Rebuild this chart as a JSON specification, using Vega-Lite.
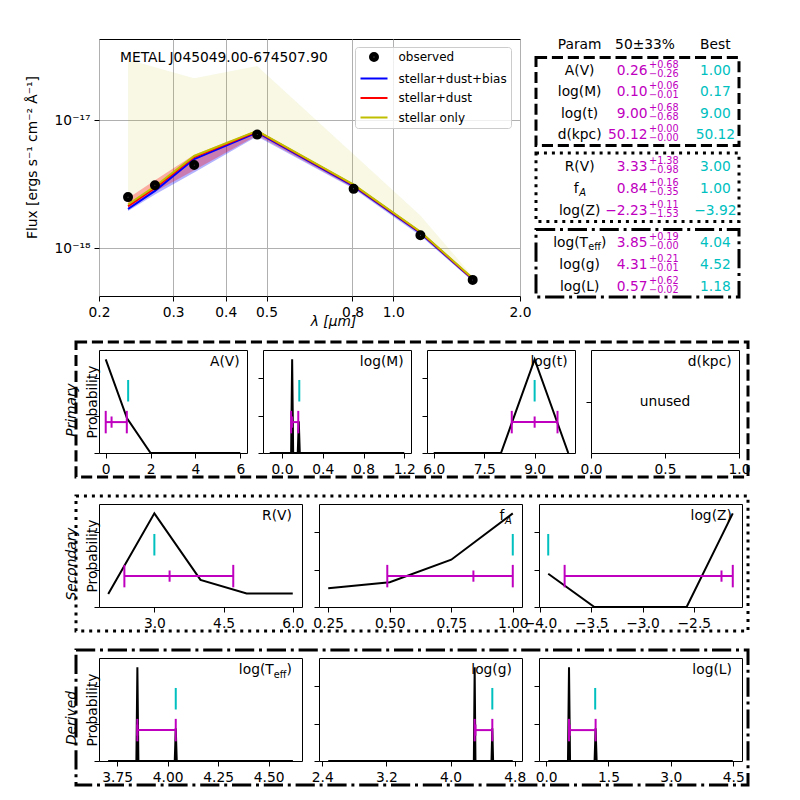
{
"$schema":"https://vega.github.io/schema/vega-lite/v6.json",
"background":"white",
"padding":{"left":24,"top":32,"right":5,"bottom":5},
"config":{
"font":"DejaVu Sans",
"view":{"stroke":"black","strokeWidth":1},
"axis":{"labelFont":"DejaVu Sans","titleFont":"DejaVu Sans","labelFontSize":13.8,"titleFontSize":13.8,"labelColor":"black","titleColor":"black","tickColor":"black","tickWidth":1,"tickSize":5,"labelPadding":4,"domain":false,"grid":false,"titleFontWeight":"normal","labelFlush":false,"labelOverlap":false},
"text":{"font":"DejaVu Sans","fontSize":13.8}
},
"datasets":{
"obs":[
{"series":"observed","wl":0.2344,"flux":2.5e-18},
{"series":"observed","wl":0.2716,"flux":3.1e-18},
{"series":"observed","wl":0.3366,"flux":4.45e-18},
{"series":"observed","wl":0.475,"flux":7.7e-18},
{"series":"observed","wl":0.805,"flux":2.9e-18},
{"series":"observed","wl":1.16,"flux":1.26e-18},
{"series":"observed","wl":1.544,"flux":5.64e-19}],
"model":[
{"series":"stellar+dust+bias","wl":0.2344,"flux":2.02e-18},
{"series":"stellar+dust+bias","wl":0.2716,"flux":2.8e-18},
{"series":"stellar+dust+bias","wl":0.3366,"flux":4.96e-18},
{"series":"stellar+dust+bias","wl":0.475,"flux":8.0e-18},
{"series":"stellar+dust+bias","wl":0.805,"flux":3.05e-18},
{"series":"stellar+dust+bias","wl":1.16,"flux":1.31e-18},
{"series":"stellar+dust+bias","wl":1.544,"flux":5.7e-19},
{"series":"stellar+dust","wl":0.2344,"flux":2.12e-18},
{"series":"stellar+dust","wl":0.2716,"flux":2.95e-18},
{"series":"stellar+dust","wl":0.3366,"flux":5.15e-18},
{"series":"stellar+dust","wl":0.475,"flux":8.15e-18},
{"series":"stellar+dust","wl":0.805,"flux":3.1e-18},
{"series":"stellar+dust","wl":1.16,"flux":1.33e-18},
{"series":"stellar+dust","wl":1.544,"flux":5.76e-19},
{"series":"stellar only","wl":0.2344,"flux":2.19e-18},
{"series":"stellar only","wl":0.2716,"flux":3.03e-18},
{"series":"stellar only","wl":0.3366,"flux":5.24e-18},
{"series":"stellar only","wl":0.475,"flux":8.25e-18},
{"series":"stellar only","wl":0.805,"flux":3.13e-18},
{"series":"stellar only","wl":1.16,"flux":1.34e-18},
{"series":"stellar only","wl":1.544,"flux":5.81e-19}],
"bands":[
{"s":"so","wl":0.2344,"lo":2.08e-18,"hi":2.97e-17},
{"s":"so","wl":0.2716,"lo":2.88e-18,"hi":2.59e-17},
{"s":"so","wl":0.3366,"lo":4.98e-18,"hi":2.12e-17},
{"s":"so","wl":0.475,"lo":7.84e-18,"hi":2.64e-17},
{"s":"so","wl":0.805,"lo":2.97e-18,"hi":5.4e-18},
{"s":"so","wl":1.16,"lo":1.27e-18,"hi":1.8e-18},
{"s":"so","wl":1.544,"lo":5.52e-19,"hi":6.0e-19},
{"s":"sdb","wl":0.2344,"lo":1.95e-18,"hi":2.2e-18},
{"s":"sdb","wl":0.2716,"lo":2.62e-18,"hi":3.0e-18},
{"s":"sdb","wl":0.3366,"lo":3.9e-18,"hi":5.1e-18},
{"s":"sdb","wl":0.475,"lo":7.45e-18,"hi":8.15e-18},
{"s":"sdb","wl":0.805,"lo":2.9e-18,"hi":3.1e-18},
{"s":"sdb","wl":1.16,"lo":1.25e-18,"hi":1.33e-18},
{"s":"sdb","wl":1.544,"lo":5.5e-19,"hi":5.8e-19},
{"s":"sd","wl":0.2344,"lo":2.02e-18,"hi":2.45e-18},
{"s":"sd","wl":0.2716,"lo":2.75e-18,"hi":3.39e-18},
{"s":"sd","wl":0.3366,"lo":4.05e-18,"hi":5.35e-18},
{"s":"sd","wl":0.475,"lo":7.6e-18,"hi":8.35e-18},
{"s":"sd","wl":0.805,"lo":2.95e-18,"hi":3.15e-18},
{"s":"sd","wl":1.16,"lo":1.28e-18,"hi":1.35e-18},
{"s":"sd","wl":1.544,"lo":5.55e-19,"hi":5.85e-19}]
},
"resolve":{"scale":{"color":"independent","shape":"independent"},"legend":{"color":"independent","shape":"independent"}},
"spacing":10,"bounds":"full","align":"none",
"vconcat":[
{"hconcat":[
{"width":7,"height":1,"view":{"stroke":null},"data":{"values":[{}]},"mark":{"type":"text","text":""}},
{"width":421,"height":257,
"layer":[
{"data":{"name":"bands"},"transform":[{"filter":"datum.s == 'so'"}],"mark":{"type":"area","color":"#bfbf00","opacity":0.1},
"encoding":{"x":{"field":"wl","type":"quantitative","scale":{"type":"log","domain":[0.2,2.0],"nice":false},"axis":{"title":"λ [μm]","titleFontStyle":"italic","values":[0.2,0.3,0.4,0.5,0.8,1.0,2.0],"format":".1f","grid":true,"gridColor":"#b0b0b0","gridWidth":1,"titlePadding":-4,"titleX":234,"titleAlign":"center"}},
"y":{"field":"lo","type":"quantitative","scale":{"type":"log","domain":[4.22e-19,4.3e-17],"nice":false},"axis":{"title":"Flux [ergs s⁻¹ cm⁻² Å⁻¹]","values":[1e-18,1e-17],"labelExpr":"datum.value > 5e-18 ? '10⁻¹⁷' : '10⁻¹⁸'","grid":true,"gridColor":"#b0b0b0","gridWidth":1,"titlePadding":15,"titleY":118}},
"y2":{"field":"hi"}}},
{"data":{"name":"bands"},"transform":[{"filter":"datum.s == 'sdb'"}],"mark":{"type":"area","color":"blue","opacity":0.3},
"encoding":{"x":{"field":"wl","type":"quantitative"},"y":{"field":"lo","type":"quantitative"},"y2":{"field":"hi"}}},
{"data":{"name":"bands"},"transform":[{"filter":"datum.s == 'sd'"}],"mark":{"type":"area","color":"red","opacity":0.3},
"encoding":{"x":{"field":"wl","type":"quantitative"},"y":{"field":"lo","type":"quantitative"},"y2":{"field":"hi"}}},
{"data":{"name":"model"},"transform":[{"filter":"datum.series == 'stellar+dust+bias'"}],"mark":{"type":"line","strokeWidth":2},
"encoding":{"x":{"field":"wl","type":"quantitative"},"y":{"field":"flux","type":"quantitative"},
"color":{"field":"series","type":"nominal","scale":{"domain":["observed","stellar+dust+bias","stellar+dust","stellar only"],"range":["black","blue","red","#bfbf00"]},
"legend":{"title":null,"orient":"none","legendX":256,"legendY":8,"padding":4,"labelFontSize":12,"labelColor":"black","symbolSize":100,"symbolStrokeWidth":2,"symbolOffset":9,"labelOffset":18.5,"rowPadding":7.5,"fillColor":"rgba(255,255,255,0.8)","strokeColor":"#cccccc","cornerRadius":3}}}},
{"data":{"name":"model"},"transform":[{"filter":"datum.series == 'stellar+dust'"}],"mark":{"type":"line","strokeWidth":2},
"encoding":{"x":{"field":"wl","type":"quantitative"},"y":{"field":"flux","type":"quantitative"},
"color":{"field":"series","type":"nominal"}}},
{"data":{"name":"model"},"transform":[{"filter":"datum.series == 'stellar only'"}],"mark":{"type":"line","strokeWidth":2},
"encoding":{"x":{"field":"wl","type":"quantitative"},"y":{"field":"flux","type":"quantitative"},
"color":{"field":"series","type":"nominal"}}},
{"data":{"name":"obs"},"mark":{"type":"point","filled":false,"size":100,"opacity":1,"strokeWidth":2},
"encoding":{"x":{"field":"wl","type":"quantitative"},"y":{"field":"flux","type":"quantitative"},
"color":{"field":"series","type":"nominal"},
"shape":{"field":"series","type":"nominal","scale":{"domain":["observed","stellar+dust+bias","stellar+dust","stellar only"],"range":["M-0.8,0A0.8,0.8 0 1,0 0.8,0A0.8,0.8 0 1,0 -0.8,0ZM-0.45,0A0.45,0.45 0 1,0 0.45,0A0.45,0.45 0 1,0 -0.45,0ZM-0.12,0A0.12,0.12 0 1,0 0.12,0A0.12,0.12 0 1,0 -0.12,0Z","M-2.7,0L2.7,0","M-2.7,0L2.7,0","M-2.7,0L2.7,0"]},
"legend":{"title":null,"orient":"none","legendX":256,"legendY":8,"padding":4,"labelFontSize":12,"labelColor":"black","symbolSize":100,"symbolStrokeWidth":2,"symbolOffset":9,"labelOffset":18.5,"rowPadding":7.5,"fillColor":"rgba(255,255,255,0.8)","strokeColor":"#cccccc","cornerRadius":3}}}},
{"data":{"values":[{"t":"METAL J045049.00-674507.90"}]},"mark":{"type":"text","align":"left","fontSize":13.8},
"encoding":{"x":{"datum":0.2244},"y":{"datum":3.05e-17},"text":{"field":"t"}}}
]},
{"vconcat":[
{"width":203,"height":11,"view":{"stroke":null},"data":{"values":[{}]},
"layer":[
{"mark":{"type":"text","fontSize":13.8},"encoding":{"x":{"datum":0,"scale":{"domain":[-0.643,2.348],"nice":false,"zero":false},"axis":null},"y":{"datum":0,"scale":{"domain":[-1,1]},"axis":null},"text":{"value":"Param"}}},
{"mark":{"type":"text","fontSize":13.8},"encoding":{"x":{"datum":0.963,"axis":null},"y":{"datum":0,"axis":null},"text":{"value":"50±33%"}}},
{"mark":{"type":"text","fontSize":13.8},"encoding":{"x":{"datum":2,"axis":null},"y":{"datum":0,"axis":null},"text":{"value":"Best"}}}
]},
{"width":203,"height":88,"view":{"stroke":"black","strokeWidth":3,"strokeDash":[11.1,4.8]},
"data":{"values":[
{"key":"A(V)","label":"A(V)","val":"0.26","up":"+0.68","dn":"−0.26","best":"1.00"},
{"key":"log(M)","label":"log(M)","val":"0.10","up":"+0.06","dn":"−0.01","best":"0.17"},
{"key":"log(t)","label":"log(t)","val":"9.00","up":"+0.68","dn":"−0.68","best":"9.00"},
{"key":"d(kpc)","label":"d(kpc)","val":"50.12","up":"+0.00","dn":"−0.00","best":"50.12"}]},
"encoding":{"y":{"field":"key","type":"nominal","scale":{"type":"point","domain":["A(V)","log(M)","log(t)","d(kpc)"],"padding":0.55,"align":0.57},"axis":null}},
"layer":[
{"mark":{"type":"text","fontSize":13.8},"encoding":{"x":{"datum":0,"scale":{"domain":[-0.643,2.348],"nice":false,"zero":false},"axis":null},"text":{"field":"label"}}},
{"mark":{"type":"text","fontSize":13.8,"align":"right","color":"#bf00bf"},"encoding":{"x":{"datum":1,"axis":null},"text":{"field":"val"}}},
{"mark":{"type":"text","fontSize":9.7,"align":"left","dx":1.5,"dy":-6,"color":"#bf00bf"},"encoding":{"x":{"datum":1,"axis":null},"text":{"field":"up"}}},
{"mark":{"type":"text","fontSize":9.7,"align":"left","dx":1.5,"dy":3,"color":"#bf00bf"},"encoding":{"x":{"datum":1,"axis":null},"text":{"field":"dn"}}},
{"mark":{"type":"text","fontSize":13.8,"color":"#00bfbf"},"encoding":{"x":{"datum":2,"axis":null},"text":{"field":"best"}}}
]},
{"width":203,"height":68.5,"view":{"stroke":"black","strokeWidth":3,"strokeDash":[3,4.95]},
"data":{"values":[
{"key":"R(V)","label":"R(V)","val":"3.33","up":"+1.38","dn":"−0.98","best":"3.00"},
{"key":"fA","label":"","val":"0.84","up":"+0.16","dn":"−0.35","best":"1.00"},
{"key":"log(Z)","label":"log(Z)","val":"−2.23","up":"+0.11","dn":"−1.53","best":"−3.92"}]},
"encoding":{"y":{"field":"key","type":"nominal","scale":{"type":"point","domain":["R(V)","fA","log(Z)"],"padding":0.55,"align":0.57},"axis":null}},
"layer":[
{"mark":{"type":"text","fontSize":13.8},"encoding":{"x":{"datum":0,"scale":{"domain":[-0.643,2.348],"nice":false,"zero":false},"axis":null},"text":{"field":"label"}}},
{"mark":{"type":"text","fontSize":13.8,"align":"right","color":"#bf00bf"},"encoding":{"x":{"datum":1,"axis":null},"text":{"field":"val"}}},
{"mark":{"type":"text","fontSize":9.7,"align":"left","dx":1.5,"dy":-6,"color":"#bf00bf"},"encoding":{"x":{"datum":1,"axis":null},"text":{"field":"up"}}},
{"mark":{"type":"text","fontSize":9.7,"align":"left","dx":1.5,"dy":3,"color":"#bf00bf"},"encoding":{"x":{"datum":1,"axis":null},"text":{"field":"dn"}}},
{"mark":{"type":"text","fontSize":13.8,"color":"#00bfbf"},"encoding":{"x":{"datum":2,"axis":null},"text":{"field":"best"}}},
{"transform":[{"filter":"datum.key == 'fA'"}],"mark":{"type":"text","fontSize":13.8,"align":"right","dx":-1},"encoding":{"x":{"datum":0,"axis":null},"text":{"value":"f"}}},
{"transform":[{"filter":"datum.key == 'fA'"}],"mark":{"type":"text","fontSize":10,"fontStyle":"italic","align":"left","dx":-0.5,"dy":4},"encoding":{"x":{"datum":0,"axis":null},"text":{"value":"A"}}}
]},
{"width":203,"height":67.5,"view":{"stroke":"black","strokeWidth":3,"strokeDash":[19.2,4.8,3,4.8]},
"data":{"values":[
{"key":"log(Teff)","label":"","val":"3.85","up":"+0.19","dn":"−0.00","best":"4.04"},
{"key":"log(g)","label":"log(g)","val":"4.31","up":"+0.21","dn":"−0.01","best":"4.52"},
{"key":"log(L)","label":"log(L)","val":"0.57","up":"+0.62","dn":"−0.02","best":"1.18"}]},
"encoding":{"y":{"field":"key","type":"nominal","scale":{"type":"point","domain":["log(Teff)","log(g)","log(L)"],"padding":0.55,"align":0.57},"axis":null}},
"layer":[
{"mark":{"type":"text","fontSize":13.8},"encoding":{"x":{"datum":0,"scale":{"domain":[-0.643,2.348],"nice":false,"zero":false},"axis":null},"text":{"field":"label"}}},
{"mark":{"type":"text","fontSize":13.8,"align":"right","color":"#bf00bf"},"encoding":{"x":{"datum":1,"axis":null},"text":{"field":"val"}}},
{"mark":{"type":"text","fontSize":9.7,"align":"left","dx":1.5,"dy":-6,"color":"#bf00bf"},"encoding":{"x":{"datum":1,"axis":null},"text":{"field":"up"}}},
{"mark":{"type":"text","fontSize":9.7,"align":"left","dx":1.5,"dy":3,"color":"#bf00bf"},"encoding":{"x":{"datum":1,"axis":null},"text":{"field":"dn"}}},
{"mark":{"type":"text","fontSize":13.8,"color":"#00bfbf"},"encoding":{"x":{"datum":2,"axis":null},"text":{"field":"best"}}},
{"transform":[{"filter":"datum.key == 'log(Teff)'"}],"mark":{"type":"text","fontSize":13.8,"align":"right","dx":8.4},"encoding":{"x":{"datum":0,"axis":null},"text":{"value":"log(T"}}},
{"transform":[{"filter":"datum.key == 'log(Teff)'"}],"mark":{"type":"text","fontSize":9.7,"align":"left","dx":8.6,"dy":3.5},"encoding":{"x":{"datum":0,"axis":null},"text":{"value":"eff"}}},
{"transform":[{"filter":"datum.key == 'log(Teff)'"}],"mark":{"type":"text","fontSize":13.8,"align":"left","dx":21.4},"encoding":{"x":{"datum":0,"axis":null},"text":{"value":")"}}}
]}
],"spacing":7.5,"bounds":"flush","align":"none"}
],"spacing":16,"bounds":"flush","align":"none",
"resolve":{"scale":{"color":"independent","shape":"independent"},"legend":{"color":"independent","shape":"independent"}}},
{"vconcat":[
{"vconcat":[
{"width":672,"height":135,"view":{"stroke":"black","strokeWidth":3,"strokeDash":[11.1,4.8]},"data":{"values":[{"g":"a"}]},"mark":{"type":"text","text":""},
"encoding":{"y":{"field":"g","type":"nominal","axis":{"title":"Primary","labels":false,"ticks":false,"domain":false,"titleFontStyle":"italic","titlePadding":-2}}}},
{"hconcat":[
{"width":1,"height":1,"view":{"stroke":null},"data":{"values":[{}]},"mark":{"type":"text","text":""}},
{"hconcat":[
{"width":148,"height":103,"layer":[
{"data":{"values":[{"x":0,"p":1.0},{"x":0.95,"p":0.37},{"x":2,"p":0},{"x":3,"p":0},{"x":4,"p":0},{"x":5,"p":0},{"x":6,"p":0}]},
"mark":{"type":"line","color":"black","strokeWidth":2,"clip":true},
"encoding":{"x":{"field":"x","type":"quantitative","scale":{"domain":[-0.3,6.3],"nice":false,"zero":false},"axis":{"title":null,"values":[0,2,4,6],"format":"d"}},
"y":{"field":"p","type":"quantitative","scale":{"domain":[0,1.1],"nice":false},"axis":{"title":"Probability","values":[0,0.2,0.4,0.6,0.8,1],"labels":false,"titlePadding":-6}}}},
{"data":{"values":[{"lo":0,"mid":0.26,"hi":0.94,"best":1.0}]},"layer":[
{"mark":{"type":"rule","color":"#bf00bf","strokeWidth":2},"encoding":{"x":{"field":"lo","type":"quantitative"},"x2":{"field":"hi"},"y":{"datum":0.33}}},
{"mark":{"type":"rule","color":"#bf00bf","strokeWidth":2},"encoding":{"x":{"field":"lo","type":"quantitative"},"y":{"datum":0.21},"y2":{"datum":0.45}}},
{"mark":{"type":"rule","color":"#bf00bf","strokeWidth":2},"encoding":{"x":{"field":"hi","type":"quantitative"},"y":{"datum":0.21},"y2":{"datum":0.45}}},
{"mark":{"type":"rule","color":"#bf00bf","strokeWidth":2},"encoding":{"x":{"field":"mid","type":"quantitative"},"y":{"datum":0.27},"y2":{"datum":0.39}}},
{"mark":{"type":"rule","color":"#00bfbf","strokeWidth":2},"encoding":{"x":{"field":"best","type":"quantitative"},"y":{"datum":0.55},"y2":{"datum":0.78}}}]},
{"data":{"values":[{}]},"mark":{"type":"text","align":"right","baseline":"top","fontSize":13.8},"encoding":{"x":{"datum":5.97},"y":{"datum":1.045},"text":{"value":"A(V)"}}}
]},
{"width":148,"height":103,"layer":[
{"data":{"values":[{"x":-0.12,"p":0},{"x":0.09,"p":0},{"x":0.1,"p":1.0},{"x":0.11,"p":0},{"x":0.155,"p":0},{"x":0.165,"p":0.34},{"x":0.175,"p":0},{"x":1.2,"p":0}]},
"mark":{"type":"line","color":"black","strokeWidth":2,"clip":true},
"encoding":{"x":{"field":"x","type":"quantitative","scale":{"domain":[-0.186,1.266],"nice":false,"zero":false},"axis":{"title":null,"values":[0,0.4,0.8,1.2],"format":".1f"}},
"y":{"field":"p","type":"quantitative","scale":{"domain":[0,1.1],"nice":false},"axis":{"title":null,"values":[0,0.2,0.4,0.6,0.8,1],"labels":false}}}},
{"data":{"values":[{"lo":0.09,"mid":0.10,"hi":0.16,"best":0.17}]},"layer":[
{"mark":{"type":"rule","color":"#bf00bf","strokeWidth":2},"encoding":{"x":{"field":"lo","type":"quantitative"},"x2":{"field":"hi"},"y":{"datum":0.33}}},
{"mark":{"type":"rule","color":"#bf00bf","strokeWidth":2},"encoding":{"x":{"field":"lo","type":"quantitative"},"y":{"datum":0.21},"y2":{"datum":0.45}}},
{"mark":{"type":"rule","color":"#bf00bf","strokeWidth":2},"encoding":{"x":{"field":"hi","type":"quantitative"},"y":{"datum":0.21},"y2":{"datum":0.45}}},
{"mark":{"type":"rule","color":"#bf00bf","strokeWidth":2},"encoding":{"x":{"field":"mid","type":"quantitative"},"y":{"datum":0.27},"y2":{"datum":0.39}}},
{"mark":{"type":"rule","color":"#00bfbf","strokeWidth":2},"encoding":{"x":{"field":"best","type":"quantitative"},"y":{"datum":0.55},"y2":{"datum":0.78}}}]},
{"data":{"values":[{}]},"mark":{"type":"text","align":"right","baseline":"top","fontSize":13.8},"encoding":{"x":{"datum":1.193},"y":{"datum":1.045},"text":{"value":"log(M)"}}}
]},
{"width":148,"height":103,"layer":[
{"data":{"values":[{"x":6,"p":0},{"x":8,"p":0},{"x":9,"p":1.0},{"x":10,"p":0}]},
"mark":{"type":"line","color":"black","strokeWidth":2,"clip":true},
"encoding":{"x":{"field":"x","type":"quantitative","scale":{"domain":[5.8,10.2],"nice":false,"zero":false},"axis":{"title":null,"values":[6,7.5,9],"format":".1f"}},
"y":{"field":"p","type":"quantitative","scale":{"domain":[0,1.1],"nice":false},"axis":{"title":null,"values":[0,0.2,0.4,0.6,0.8,1],"labels":false}}}},
{"data":{"values":[{"lo":8.32,"mid":9.0,"hi":9.68,"best":9.0}]},"layer":[
{"mark":{"type":"rule","color":"#bf00bf","strokeWidth":2},"encoding":{"x":{"field":"lo","type":"quantitative"},"x2":{"field":"hi"},"y":{"datum":0.33}}},
{"mark":{"type":"rule","color":"#bf00bf","strokeWidth":2},"encoding":{"x":{"field":"lo","type":"quantitative"},"y":{"datum":0.21},"y2":{"datum":0.45}}},
{"mark":{"type":"rule","color":"#bf00bf","strokeWidth":2},"encoding":{"x":{"field":"hi","type":"quantitative"},"y":{"datum":0.21},"y2":{"datum":0.45}}},
{"mark":{"type":"rule","color":"#bf00bf","strokeWidth":2},"encoding":{"x":{"field":"mid","type":"quantitative"},"y":{"datum":0.27},"y2":{"datum":0.39}}},
{"mark":{"type":"rule","color":"#00bfbf","strokeWidth":2},"encoding":{"x":{"field":"best","type":"quantitative"},"y":{"datum":0.55},"y2":{"datum":0.78}}}]},
{"data":{"values":[{}]},"mark":{"type":"text","align":"right","baseline":"top","fontSize":13.8},"encoding":{"x":{"datum":9.98},"y":{"datum":1.045},"text":{"value":"log(t)"}}}
]},
{"width":148,"height":103,"data":{"values":[{"t":"unused"}]},"layer":[
{"mark":{"type":"text","fontSize":13.8},"encoding":{"x":{"datum":0.5,"scale":{"domain":[0,1],"nice":false},"axis":{"title":null,"values":[0,0.5,1],"format":".1f"}},"y":{"datum":0.5,"scale":{"domain":[0,1],"nice":false},"axis":{"title":null,"values":[0.5],"labels":false}},"text":{"field":"t"}}},
{"mark":{"type":"text","align":"right","baseline":"top","fontSize":13.8},"encoding":{"x":{"datum":0.95},"y":{"datum":0.95},"text":{"value":"d(kpc)"}}}
]}
],"spacing":16,"bounds":"flush","align":"none"}
],"spacing":22,"bounds":"flush","align":"none"}
],"spacing":-127,"bounds":"flush","align":"none"},
{"vconcat":[
{"width":672,"height":135,"view":{"stroke":"black","strokeWidth":3,"strokeDash":[3,4.95]},"data":{"values":[{"g":"a"}]},"mark":{"type":"text","text":""},
"encoding":{"y":{"field":"g","type":"nominal","axis":{"title":"Secondary","labels":false,"ticks":false,"domain":false,"titleFontStyle":"italic","titlePadding":-2}}}},
{"hconcat":[
{"width":1,"height":1,"view":{"stroke":null},"data":{"values":[{}]},"mark":{"type":"text","text":""}},
{"hconcat":[
{"width":203,"height":103,"layer":[
{"data":{"values":[{"x":2,"p":0.14},{"x":3,"p":1.0},{"x":4,"p":0.29},{"x":5,"p":0.145},{"x":6,"p":0.145}]},
"mark":{"type":"line","color":"black","strokeWidth":2,"clip":true},
"encoding":{"x":{"field":"x","type":"quantitative","scale":{"domain":[1.8,6.2],"nice":false,"zero":false},"axis":{"title":null,"values":[3,4.5,6],"format":".1f"}},
"y":{"field":"p","type":"quantitative","scale":{"domain":[0,1.1],"nice":false},"axis":{"title":"Probability","values":[0,0.2,0.4,0.6,0.8,1],"labels":false,"titlePadding":-6}}}},
{"data":{"values":[{"lo":2.35,"mid":3.33,"hi":4.71,"best":3.0}]},"layer":[
{"mark":{"type":"rule","color":"#bf00bf","strokeWidth":2},"encoding":{"x":{"field":"lo","type":"quantitative"},"x2":{"field":"hi"},"y":{"datum":0.33}}},
{"mark":{"type":"rule","color":"#bf00bf","strokeWidth":2},"encoding":{"x":{"field":"lo","type":"quantitative"},"y":{"datum":0.21},"y2":{"datum":0.45}}},
{"mark":{"type":"rule","color":"#bf00bf","strokeWidth":2},"encoding":{"x":{"field":"hi","type":"quantitative"},"y":{"datum":0.21},"y2":{"datum":0.45}}},
{"mark":{"type":"rule","color":"#bf00bf","strokeWidth":2},"encoding":{"x":{"field":"mid","type":"quantitative"},"y":{"datum":0.27},"y2":{"datum":0.39}}},
{"mark":{"type":"rule","color":"#00bfbf","strokeWidth":2},"encoding":{"x":{"field":"best","type":"quantitative"},"y":{"datum":0.55},"y2":{"datum":0.78}}}]},
{"data":{"values":[{}]},"mark":{"type":"text","align":"right","baseline":"top","fontSize":13.8},"encoding":{"x":{"datum":5.98},"y":{"datum":1.045},"text":{"value":"R(V)"}}}
]},
{"width":203,"height":103,"layer":[
{"data":{"values":[{"x":0.25,"p":0.2},{"x":0.5,"p":0.265},{"x":0.75,"p":0.505},{"x":1.0,"p":1.0}]},
"mark":{"type":"line","color":"black","strokeWidth":2,"clip":true},
"encoding":{"x":{"field":"x","type":"quantitative","scale":{"domain":[0.2125,1.0375],"nice":false,"zero":false},"axis":{"title":null,"values":[0.25,0.5,0.75,1],"format":".2f"}},
"y":{"field":"p","type":"quantitative","scale":{"domain":[0,1.1],"nice":false},"axis":{"title":null,"values":[0,0.2,0.4,0.6,0.8,1],"labels":false}}}},
{"data":{"values":[{"lo":0.49,"mid":0.84,"hi":1.0,"best":1.0}]},"layer":[
{"mark":{"type":"rule","color":"#bf00bf","strokeWidth":2},"encoding":{"x":{"field":"lo","type":"quantitative"},"x2":{"field":"hi"},"y":{"datum":0.33}}},
{"mark":{"type":"rule","color":"#bf00bf","strokeWidth":2},"encoding":{"x":{"field":"lo","type":"quantitative"},"y":{"datum":0.21},"y2":{"datum":0.45}}},
{"mark":{"type":"rule","color":"#bf00bf","strokeWidth":2},"encoding":{"x":{"field":"hi","type":"quantitative"},"y":{"datum":0.21},"y2":{"datum":0.45}}},
{"mark":{"type":"rule","color":"#bf00bf","strokeWidth":2},"encoding":{"x":{"field":"mid","type":"quantitative"},"y":{"datum":0.27},"y2":{"datum":0.39}}},
{"mark":{"type":"rule","color":"#00bfbf","strokeWidth":2},"encoding":{"x":{"field":"best","type":"quantitative"},"y":{"datum":0.55},"y2":{"datum":0.78}}}]},
{"data":{"values":[{}]},"mark":{"type":"text","align":"right","baseline":"top","fontSize":13.8,"dx":-7.5},"encoding":{"x":{"datum":0.996},"y":{"datum":1.045},"text":{"value":"f"}}},
{"data":{"values":[{}]},"mark":{"type":"text","align":"right","baseline":"top","fontSize":10,"fontStyle":"italic","dy":6.5},"encoding":{"x":{"datum":0.996},"y":{"datum":1.045},"text":{"value":"A"}}}
]},
{"width":203,"height":103,"layer":[
{"data":{"values":[{"x":-3.92,"p":0.355},{"x":-3.47,"p":0},{"x":-2.57,"p":0},{"x":-2.12,"p":1.0}]},
"mark":{"type":"line","color":"black","strokeWidth":2,"clip":true},
"encoding":{"x":{"field":"x","type":"quantitative","scale":{"domain":[-4.01,-2.03],"nice":false,"zero":false},"axis":{"title":null,"values":[-4,-3.5,-3,-2.5],"format":".1f"}},
"y":{"field":"p","type":"quantitative","scale":{"domain":[0,1.1],"nice":false},"axis":{"title":null,"values":[0,0.2,0.4,0.6,0.8,1],"labels":false}}}},
{"data":{"values":[{"lo":-3.76,"mid":-2.23,"hi":-2.12,"best":-3.92}]},"layer":[
{"mark":{"type":"rule","color":"#bf00bf","strokeWidth":2},"encoding":{"x":{"field":"lo","type":"quantitative"},"x2":{"field":"hi"},"y":{"datum":0.33}}},
{"mark":{"type":"rule","color":"#bf00bf","strokeWidth":2},"encoding":{"x":{"field":"lo","type":"quantitative"},"y":{"datum":0.21},"y2":{"datum":0.45}}},
{"mark":{"type":"rule","color":"#bf00bf","strokeWidth":2},"encoding":{"x":{"field":"hi","type":"quantitative"},"y":{"datum":0.21},"y2":{"datum":0.45}}},
{"mark":{"type":"rule","color":"#bf00bf","strokeWidth":2},"encoding":{"x":{"field":"mid","type":"quantitative"},"y":{"datum":0.27},"y2":{"datum":0.39}}},
{"mark":{"type":"rule","color":"#00bfbf","strokeWidth":2},"encoding":{"x":{"field":"best","type":"quantitative"},"y":{"datum":0.55},"y2":{"datum":0.78}}}]},
{"data":{"values":[{}]},"mark":{"type":"text","align":"right","baseline":"top","fontSize":13.8},"encoding":{"x":{"datum":-2.129},"y":{"datum":1.045},"text":{"value":"log(Z)"}}}
]}
],"spacing":17,"bounds":"flush","align":"none"}
],"spacing":22,"bounds":"flush","align":"none"}
],"spacing":-127,"bounds":"flush","align":"none"},
{"vconcat":[
{"width":672,"height":135,"view":{"stroke":"black","strokeWidth":3,"strokeDash":[19.2,4.8,3,4.8]},"data":{"values":[{"g":"a"}]},"mark":{"type":"text","text":""},
"encoding":{"y":{"field":"g","type":"nominal","axis":{"title":"Derived","labels":false,"ticks":false,"domain":false,"titleFontStyle":"italic","titlePadding":-2}}}},
{"hconcat":[
{"width":1,"height":1,"view":{"stroke":null},"data":{"values":[{}]},"mark":{"type":"text","text":""}},
{"hconcat":[
{"width":203,"height":103,"layer":[
{"data":{"values":[{"x":3.705,"p":0},{"x":3.845,"p":0},{"x":3.85,"p":1.0},{"x":3.855,"p":0},{"x":4.035,"p":0},{"x":4.04,"p":0.35},{"x":4.045,"p":0},{"x":4.62,"p":0}]},
"mark":{"type":"line","color":"black","strokeWidth":2,"clip":true},
"encoding":{"x":{"field":"x","type":"quantitative","scale":{"domain":[3.66,4.665],"nice":false,"zero":false},"axis":{"title":null,"values":[3.75,4,4.25,4.5],"format":".2f"}},
"y":{"field":"p","type":"quantitative","scale":{"domain":[0,1.1],"nice":false},"axis":{"title":"Probability","values":[0,0.2,0.4,0.6,0.8,1],"labels":false,"titlePadding":-6}}}},
{"data":{"values":[{"lo":3.85,"mid":3.85,"hi":4.04,"best":4.04}]},"layer":[
{"mark":{"type":"rule","color":"#bf00bf","strokeWidth":2},"encoding":{"x":{"field":"lo","type":"quantitative"},"x2":{"field":"hi"},"y":{"datum":0.33}}},
{"mark":{"type":"rule","color":"#bf00bf","strokeWidth":2},"encoding":{"x":{"field":"lo","type":"quantitative"},"y":{"datum":0.21},"y2":{"datum":0.45}}},
{"mark":{"type":"rule","color":"#bf00bf","strokeWidth":2},"encoding":{"x":{"field":"hi","type":"quantitative"},"y":{"datum":0.21},"y2":{"datum":0.45}}},
{"mark":{"type":"rule","color":"#bf00bf","strokeWidth":2},"encoding":{"x":{"field":"mid","type":"quantitative"},"y":{"datum":0.27},"y2":{"datum":0.39}}},
{"mark":{"type":"rule","color":"#00bfbf","strokeWidth":2},"encoding":{"x":{"field":"best","type":"quantitative"},"y":{"datum":0.55},"y2":{"datum":0.78}}}]},
{"data":{"values":[{}]},"mark":{"type":"text","align":"right","baseline":"top","fontSize":13.8},"encoding":{"x":{"datum":4.615},"y":{"datum":1.045},"text":{"value":")"}}},
{"data":{"values":[{}]},"mark":{"type":"text","align":"right","baseline":"top","fontSize":9.7,"dx":-5.4,"dy":6.5},"encoding":{"x":{"datum":4.615},"y":{"datum":1.045},"text":{"value":"eff"}}},
{"data":{"values":[{}]},"mark":{"type":"text","align":"right","baseline":"top","fontSize":13.8,"dx":-18.2},"encoding":{"x":{"datum":4.615},"y":{"datum":1.045},"text":{"value":"log(T"}}}
]},
{"width":203,"height":103,"layer":[
{"data":{"values":[{"x":2.475,"p":0},{"x":4.29,"p":0},{"x":4.3,"p":1.0},{"x":4.31,"p":0},{"x":4.51,"p":0},{"x":4.52,"p":0.35},{"x":4.53,"p":0},{"x":4.775,"p":0}]},
"mark":{"type":"line","color":"black","strokeWidth":2,"clip":true},
"encoding":{"x":{"field":"x","type":"quantitative","scale":{"domain":[2.36,4.89],"nice":false,"zero":false},"axis":{"title":null,"values":[2.4,3.2,4,4.8],"format":".1f"}},
"y":{"field":"p","type":"quantitative","scale":{"domain":[0,1.1],"nice":false},"axis":{"title":null,"values":[0,0.2,0.4,0.6,0.8,1],"labels":false}}}},
{"data":{"values":[{"lo":4.3,"mid":4.31,"hi":4.52,"best":4.52}]},"layer":[
{"mark":{"type":"rule","color":"#bf00bf","strokeWidth":2},"encoding":{"x":{"field":"lo","type":"quantitative"},"x2":{"field":"hi"},"y":{"datum":0.33}}},
{"mark":{"type":"rule","color":"#bf00bf","strokeWidth":2},"encoding":{"x":{"field":"lo","type":"quantitative"},"y":{"datum":0.21},"y2":{"datum":0.45}}},
{"mark":{"type":"rule","color":"#bf00bf","strokeWidth":2},"encoding":{"x":{"field":"hi","type":"quantitative"},"y":{"datum":0.21},"y2":{"datum":0.45}}},
{"mark":{"type":"rule","color":"#bf00bf","strokeWidth":2},"encoding":{"x":{"field":"mid","type":"quantitative"},"y":{"datum":0.27},"y2":{"datum":0.39}}},
{"mark":{"type":"rule","color":"#00bfbf","strokeWidth":2},"encoding":{"x":{"field":"best","type":"quantitative"},"y":{"datum":0.55},"y2":{"datum":0.78}}}]},
{"data":{"values":[{}]},"mark":{"type":"text","align":"right","baseline":"top","fontSize":13.8},"encoding":{"x":{"datum":4.764},"y":{"datum":1.045},"text":{"value":"log(g)"}}}
]},
{"width":203,"height":103,"layer":[
{"data":{"values":[{"x":0.05,"p":0},{"x":0.525,"p":0},{"x":0.55,"p":1.0},{"x":0.575,"p":0},{"x":1.165,"p":0},{"x":1.19,"p":0.35},{"x":1.215,"p":0},{"x":4.49,"p":0}]},
"mark":{"type":"line","color":"black","strokeWidth":2,"clip":true},
"encoding":{"x":{"field":"x","type":"quantitative","scale":{"domain":[-0.172,4.712],"nice":false,"zero":false},"axis":{"title":null,"values":[0,1.5,3,4.5],"format":".1f"}},
"y":{"field":"p","type":"quantitative","scale":{"domain":[0,1.1],"nice":false},"axis":{"title":null,"values":[0,0.2,0.4,0.6,0.8,1],"labels":false}}}},
{"data":{"values":[{"lo":0.55,"mid":0.57,"hi":1.19,"best":1.18}]},"layer":[
{"mark":{"type":"rule","color":"#bf00bf","strokeWidth":2},"encoding":{"x":{"field":"lo","type":"quantitative"},"x2":{"field":"hi"},"y":{"datum":0.33}}},
{"mark":{"type":"rule","color":"#bf00bf","strokeWidth":2},"encoding":{"x":{"field":"lo","type":"quantitative"},"y":{"datum":0.21},"y2":{"datum":0.45}}},
{"mark":{"type":"rule","color":"#bf00bf","strokeWidth":2},"encoding":{"x":{"field":"hi","type":"quantitative"},"y":{"datum":0.21},"y2":{"datum":0.45}}},
{"mark":{"type":"rule","color":"#bf00bf","strokeWidth":2},"encoding":{"x":{"field":"mid","type":"quantitative"},"y":{"datum":0.27},"y2":{"datum":0.39}}},
{"mark":{"type":"rule","color":"#00bfbf","strokeWidth":2},"encoding":{"x":{"field":"best","type":"quantitative"},"y":{"datum":0.55},"y2":{"datum":0.78}}}]},
{"data":{"values":[{}]},"mark":{"type":"text","align":"right","baseline":"top","fontSize":13.8},"encoding":{"x":{"datum":4.468},"y":{"datum":1.045},"text":{"value":"log(L)"}}}
]}
],"spacing":17,"bounds":"flush","align":"none"}
],"spacing":22,"bounds":"flush","align":"none"}
],"spacing":-127,"bounds":"flush","align":"none"}
],"spacing":15,"bounds":"full","align":"none"}
]
}
